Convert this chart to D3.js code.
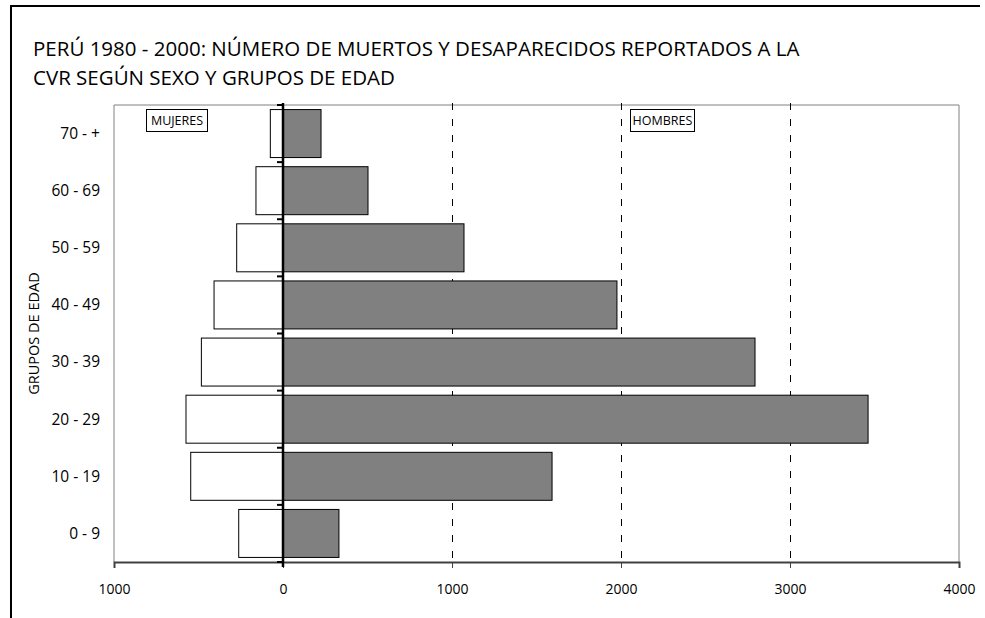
<!DOCTYPE html>
<html>
<head>
<meta charset="utf-8">
<script src="https://cdn.jsdelivr.net/npm/d3@7"></script>
<style>
  body { margin: 0; background: #fff; }
  text { font-family: "Open Sans", "Noto Sans", sans-serif; fill: #000; }
</style>
</head>
<body>
<script>
// age groups, top to bottom
const groups = ["70 - +", "60 - 69", "50 - 59", "40 - 49", "30 - 39", "20 - 29", "10 - 19", "0 - 9"];
const hombres = [225, 503, 1071, 1976, 2793, 3462, 1592, 331];
const mujeres = [75, 160, 274, 408, 483, 574, 546, 262];
const xTicks = [-1000, 0, 1000, 2000, 3000, 4000];
const gridTicks = [1000, 2000, 3000];
const titleLines = [
    "PERÚ 1980 - 2000: NÚMERO DE MUERTOS Y DESAPARECIDOS REPORTADOS A LA",
    "CVR SEGÚN SEXO Y GRUPOS DE EDAD"
];

const width = 985, height = 618;
const plot = {left: 114, right: 959, top: 105, bottom: 562};

const svg = d3.select("body").append("svg")
    .attr("width", width)
    .attr("height", height);

// outer frame (top + left)
svg.append("path")
    .attr("d", "M11," + height + " L11,6 L980,6")
    .attr("fill", "none")
    .attr("stroke", "#000")
    .attr("stroke-width", 2);

// title
svg.append("g").selectAll("text")
    .data(titleLines)
    .enter().append("text")
    .attr("x", 33)
    .attr("y", (d, i) => 56 + i * 29)
    .style("font-size", "20.5px")
    .text(d => d);

const x = d3.scaleLinear().domain([-1000, 4000]).range([plot.left, plot.right]);
const y = d3.scaleBand().domain(groups).range([plot.top, plot.bottom]).paddingInner(0.16).paddingOuter(0.08);
const step = y.step();

// plot border (top, left, right)
svg.append("path")
    .attr("d", "M" + plot.left + "," + plot.bottom + " L" + plot.left + "," + plot.top +
        " L" + plot.right + "," + plot.top + " L" + plot.right + "," + plot.bottom)
    .attr("fill", "none")
    .attr("stroke", "#808080")
    .attr("stroke-width", 1);

// dashed grid
svg.append("g").selectAll("line")
    .data(gridTicks)
    .enter().append("line")
    .attr("x1", d => Math.round(x(d)) + 0.5)
    .attr("x2", d => Math.round(x(d)) + 0.5)
    .attr("y1", plot.top - 2)
    .attr("y2", plot.bottom)
    .attr("stroke", "#000")
    .attr("stroke-dasharray", "7,9");

// bars
const rows = groups.map((g, i) => ({g: g, h: hombres[i], m: mujeres[i]}));
const bars = svg.append("g");
bars.selectAll("rect.m")
    .data(rows)
    .enter().append("rect")
    .attr("class", "m")
    .attr("x", d => x(-d.m))
    .attr("y", d => y(d.g))
    .attr("width", d => x(0) - x(-d.m))
    .attr("height", y.bandwidth())
    .attr("fill", "#fff")
    .attr("stroke", "#000");
bars.selectAll("rect.h")
    .data(rows)
    .enter().append("rect")
    .attr("class", "h")
    .attr("x", x(0))
    .attr("y", d => y(d.g))
    .attr("width", d => x(d.h) - x(0))
    .attr("height", y.bandwidth())
    .attr("fill", "#808080")
    .attr("stroke", "#000");

// bottom axis
const xAxis = d3.axisBottom(x)
    .tickValues(xTicks)
    .tickSize(6)
    .tickPadding(16)
    .tickFormat(d => Math.abs(d));
const gx = svg.append("g")
    .attr("transform", "translate(0," + plot.bottom + ")")
    .call(xAxis);
gx.select(".domain").attr("stroke", "#404040").attr("stroke-width", 2);
gx.selectAll(".tick line").attr("stroke", "#404040");
gx.selectAll(".tick text").style("font-size", "14px").style("font-family", "'Open Sans', sans-serif");

// zero axis with ticks at band boundaries
const x0 = x(0);
svg.append("line")
    .attr("x1", x0).attr("x2", x0)
    .attr("y1", plot.top - 2).attr("y2", plot.bottom + 5)
    .attr("stroke", "#000")
    .attr("stroke-width", 2.5);
svg.append("g").selectAll("line")
    .data(d3.range(groups.length + 1))
    .enter().append("line")
    .attr("x1", x0 - 6).attr("x2", x0)
    .attr("y1", i => plot.top + i * step)
    .attr("y2", i => plot.top + i * step)
    .attr("stroke", "#000")
    .attr("stroke-width", 2);

// category labels
svg.append("g").selectAll("text")
    .data(groups)
    .enter().append("text")
    .attr("x", 100)
    .attr("y", d => y(d) + y.bandwidth() / 2)
    .attr("dy", "0.35em")
    .attr("text-anchor", "end")
    .style("font-size", "15.5px")
    .text(d => d);

// y title
svg.append("text")
    .attr("transform", "translate(39," + ((plot.top + plot.bottom) / 2) + ") rotate(-90)")
    .attr("text-anchor", "middle")
    .style("font-size", "14.5px")
    .text("GRUPOS DE EDAD");

// legend boxes
const legend = [
    {label: "MUJERES", x: 146, w: 61},
    {label: "HOMBRES", x: 630, w: 64}
];
const lg = svg.append("g").selectAll("g")
    .data(legend)
    .enter().append("g");
lg.append("rect")
    .attr("x", d => d.x + 0.5)
    .attr("y", 109.5)
    .attr("width", d => d.w)
    .attr("height", 22)
    .attr("fill", "#fff")
    .attr("stroke", "#000");
lg.append("text")
    .attr("x", d => d.x + d.w / 2 + 0.5)
    .attr("y", 125)
    .attr("text-anchor", "middle")
    .style("font-size", "12.5px")
    .text(d => d.label);
</script>
</body>
</html>
